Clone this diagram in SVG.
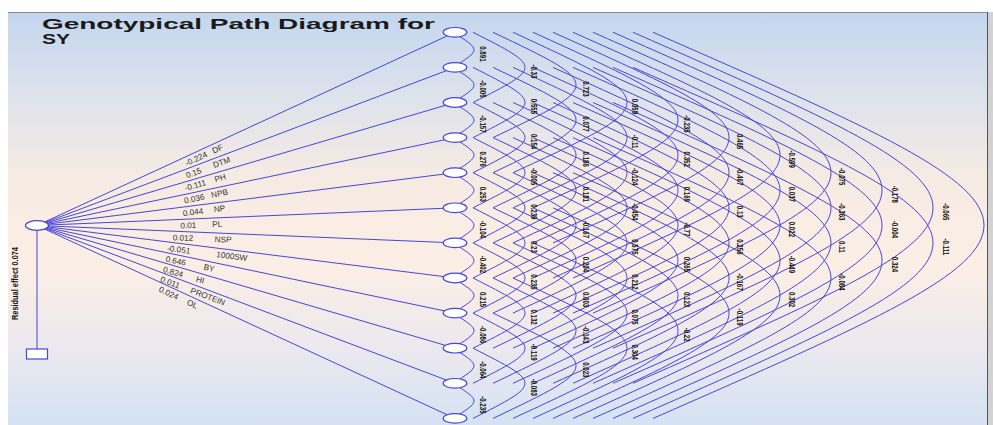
<svg xmlns="http://www.w3.org/2000/svg" width="993" height="425" viewBox="0 0 993 425">
<defs>
<linearGradient id="bg" x1="0" y1="12" x2="0" y2="425" gradientUnits="userSpaceOnUse">
<stop offset="0" stop-color="#c3d6ee"/>
<stop offset="0.2" stop-color="#dde2ec"/>
<stop offset="0.4" stop-color="#f6ebe3"/>
<stop offset="0.62" stop-color="#fbeee5"/>
<stop offset="0.82" stop-color="#ebe8ef"/>
<stop offset="1" stop-color="#d5e2f3"/>
</linearGradient>
<style>
.ln{fill:none;stroke:#4646d8;stroke-width:1}
.nd{fill:#fff;stroke:#4646d8;stroke-width:1.2}
.pl{font-family:"Liberation Sans",Arial,sans-serif;font-size:8.2px;fill:#333}
.al{font-family:"Liberation Sans",Arial,sans-serif;font-size:9px;font-weight:bold;fill:#111;text-anchor:middle;dominant-baseline:central}
.tt{font-family:"Liberation Sans",Arial,sans-serif;font-size:15px;font-weight:bold;fill:#1a1a1a}
</style>
</defs>
<rect x="0" y="0" width="993" height="425" fill="#fff"/>
<rect x="8" y="12" width="979" height="413" fill="url(#bg)"/>
<line x1="8" y1="12.5" x2="987" y2="12.5" stroke="#8a8a8a" stroke-width="1"/>
<rect x="987" y="12" width="6" height="413" fill="#d2d2d2"/>
<line x1="987.5" y1="12" x2="987.5" y2="425" stroke="#555" stroke-width="1"/>
<g id="title">
<text class="tt" x="42" y="29" textLength="393" lengthAdjust="spacingAndGlyphs">Genotypical Path Diagram for</text>
<text class="tt" x="42" y="44" textLength="28" lengthAdjust="spacingAndGlyphs">SY</text>
</g>
<g id="connectors">
<path class="ln" d="M37 225.5L455 32.3M37 225.5L455 67.4M37 225.5L455 102.5M37 225.5L455 137.6M37 225.5L455 172.7M37 225.5L455 207.8M37 225.5L455 242.9M37 225.5L455 278M37 225.5L455 313.1M37 225.5L455 348.2M37 225.5L455 383.3M37 225.5L455 418.4"/>
<path class="ln" d="M37 230V349"/>
<path class="ln" d="M453 32.3C481 49.85 481 49.85 453 67.4M453 67.4C481 84.95 481 84.95 453 102.5M453 102.5C481 120.05 481 120.05 453 137.6M453 137.6C481 155.15 481 155.15 453 172.7M453 172.7C481 190.25 481 190.25 453 207.8M453 207.8C481 225.35 481 225.35 453 242.9M453 242.9C481 260.45 481 260.45 453 278M453 278C481 295.55 481 295.55 453 313.1M453 313.1C481 330.65 481 330.65 453 348.2M453 348.2C481 365.75 481 365.75 453 383.3M453 383.3C481 400.85 481 400.85 453 418.4"/>
<path class="ln" d="M473 32.3C542.3 67.4 542.3 67.4 473 102.5M473 67.4C542.3 102.5 542.3 102.5 473 137.6M473 102.5C542.3 137.6 542.3 137.6 473 172.7M473 137.6C542.3 172.7 542.3 172.7 473 207.8M473 172.7C542.3 207.8 542.3 207.8 473 242.9M473 207.8C542.3 242.9 542.3 242.9 473 278M473 242.9C542.3 278 542.3 278 473 313.1M473 278C542.3 313.1 542.3 313.1 473 348.2M473 313.1C542.3 348.2 542.3 348.2 473 383.3M473 348.2C542.3 383.3 542.3 383.3 473 418.4"/>
<path class="ln" d="M493 32.3C603.7 84.95 603.7 84.95 493 137.6M493 67.4C603.7 120.05 603.7 120.05 493 172.7M493 102.5C603.7 155.15 603.7 155.15 493 207.8M493 137.6C603.7 190.25 603.7 190.25 493 242.9M493 172.7C603.7 225.35 603.7 225.35 493 278M493 207.8C603.7 260.45 603.7 260.45 493 313.1M493 242.9C603.7 295.55 603.7 295.55 493 348.2M493 278C603.7 330.65 603.7 330.65 493 383.3M493 313.1C603.7 365.75 603.7 365.75 493 418.4"/>
<path class="ln" d="M513 32.3C665 102.5 665 102.5 513 172.7M513 67.4C665 137.6 665 137.6 513 207.8M513 102.5C665 172.7 665 172.7 513 242.9M513 137.6C665 207.8 665 207.8 513 278M513 172.7C665 242.9 665 242.9 513 313.1M513 207.8C665 278 665 278 513 348.2M513 242.9C665 313.1 665 313.1 513 383.3M513 278C665 348.2 665 348.2 513 418.4"/>
<path class="ln" d="M533 32.3C726.3 120.05 726.3 120.05 533 207.8M533 67.4C726.3 155.15 726.3 155.15 533 242.9M533 102.5C726.3 190.25 726.3 190.25 533 278M533 137.6C726.3 225.35 726.3 225.35 533 313.1M533 172.7C726.3 260.45 726.3 260.45 533 348.2M533 207.8C726.3 295.55 726.3 295.55 533 383.3M533 242.9C726.3 330.65 726.3 330.65 533 418.4"/>
<path class="ln" d="M553 32.3C787.7 137.6 787.7 137.6 553 242.9M553 67.4C787.7 172.7 787.7 172.7 553 278M553 102.5C787.7 207.8 787.7 207.8 553 313.1M553 137.6C787.7 242.9 787.7 242.9 553 348.2M553 172.7C787.7 278 787.7 278 553 383.3M553 207.8C787.7 313.1 787.7 313.1 553 418.4"/>
<path class="ln" d="M573 32.3C849 155.15 849 155.15 573 278M573 67.4C849 190.25 849 190.25 573 313.1M573 102.5C849 225.35 849 225.35 573 348.2M573 137.6C849 260.45 849 260.45 573 383.3M573 172.7C849 295.55 849 295.55 573 418.4"/>
<path class="ln" d="M593 32.3C910.3 172.7 910.3 172.7 593 313.1M593 67.4C910.3 207.8 910.3 207.8 593 348.2M593 102.5C910.3 242.9 910.3 242.9 593 383.3M593 137.6C910.3 278 910.3 278 593 418.4"/>
<path class="ln" d="M613 32.3C971.7 190.25 971.7 190.25 613 348.2M613 67.4C971.7 225.35 971.7 225.35 613 383.3M613 102.5C971.7 260.45 971.7 260.45 613 418.4"/>
<path class="ln" d="M633 32.3C1033 207.8 1033 207.8 633 383.3M633 67.4C1033 242.9 1033 242.9 633 418.4"/>
<path class="ln" d="M653 32.3C1094.3 225.35 1094.3 225.35 653 418.4"/>
</g>
<g id="source"><ellipse class="nd" cx="37" cy="225.5" rx="11.5" ry="4.8"/></g>
<g id="residual"><rect class="nd" x="26.5" y="349" width="21" height="10"/>
<text class="al" transform="translate(15,283.5) rotate(-90) scale(0.82,1)" style="font-size:9px">Residual effect  0.074</text></g>
<g id="n0"><ellipse class="nd" cx="455" cy="32.3" rx="11.8" ry="4.8"/></g>
<g id="n1"><ellipse class="nd" cx="455" cy="67.4" rx="11.8" ry="4.8"/></g>
<g id="n2"><ellipse class="nd" cx="455" cy="102.5" rx="11.8" ry="4.8"/></g>
<g id="n3"><ellipse class="nd" cx="455" cy="137.6" rx="11.8" ry="4.8"/></g>
<g id="n4"><ellipse class="nd" cx="455" cy="172.7" rx="11.8" ry="4.8"/></g>
<g id="n5"><ellipse class="nd" cx="455" cy="207.8" rx="11.8" ry="4.8"/></g>
<g id="n6"><ellipse class="nd" cx="455" cy="242.9" rx="11.8" ry="4.8"/></g>
<g id="n7"><ellipse class="nd" cx="455" cy="278" rx="11.8" ry="4.8"/></g>
<g id="n8"><ellipse class="nd" cx="455" cy="313.1" rx="11.8" ry="4.8"/></g>
<g id="n9"><ellipse class="nd" cx="455" cy="348.2" rx="11.8" ry="4.8"/></g>
<g id="n10"><ellipse class="nd" cx="455" cy="383.3" rx="11.8" ry="4.8"/></g>
<g id="n11"><ellipse class="nd" cx="455" cy="418.4" rx="11.8" ry="4.8"/></g>
<g id="path-labels">
<g transform="translate(183,158) rotate(-24.8)"><text class="pl" y="9">-0.224</text><text class="pl" x="29.8" y="9">DF</text></g>
<g transform="translate(184,169.9) rotate(-20.72)"><text class="pl" y="9">0.15</text><text class="pl" x="28.9" y="9">DTM</text></g>
<g transform="translate(183,182.5) rotate(-16.4)"><text class="pl" y="9">-0.111</text><text class="pl" x="31.3" y="9">PH</text></g>
<g transform="translate(183,194.8) rotate(-11.87)"><text class="pl" y="9">0.036</text><text class="pl" x="27.6" y="9">NPB</text></g>
<g transform="translate(182,207.2) rotate(-7.2)"><text class="pl" y="9">0.044</text><text class="pl" x="31.3" y="9">NP</text></g>
<g transform="translate(180,219.45) rotate(-2.425)"><text class="pl" y="9">0.01</text><text class="pl" x="32" y="9">PL</text></g>
<g transform="translate(173,231.16) rotate(2.384)"><text class="pl" y="9">0.012</text><text class="pl" x="42" y="9">NSP</text></g>
<g transform="translate(168,241.95) rotate(7.159)"><text class="pl" y="9">-0.051</text><text class="pl" x="49.4" y="9">1000SW</text></g>
<g transform="translate(167,252.75) rotate(11.83)"><text class="pl" y="9">0.646</text><text class="pl" x="38.8" y="9">BY</text></g>
<g transform="translate(165,263.07) rotate(16.36)"><text class="pl" y="9">0.824</text><text class="pl" x="34.4" y="9">HI</text></g>
<g transform="translate(163,273.07) rotate(20.68)"><text class="pl" y="9">0.011</text><text class="pl" x="32.1" y="9">PROTEIN</text></g>
<g transform="translate(162,283.19) rotate(24.78)"><text class="pl" y="9">0.024</text><text class="pl" x="30.9" y="9">OL</text></g>
</g>
<g id="arc-labels">
<text class="al" transform="translate(482.5,53.9) rotate(90) scale(0.68,1)">0.891</text>
<text class="al" transform="translate(482.5,89) rotate(90) scale(0.68,1)">-0.005</text>
<text class="al" transform="translate(482.5,124) rotate(90) scale(0.68,1)">-0.157</text>
<text class="al" transform="translate(482.5,159.2) rotate(90) scale(0.68,1)">0.276</text>
<text class="al" transform="translate(482.5,194.3) rotate(90) scale(0.68,1)">0.253</text>
<text class="al" transform="translate(482.5,229.4) rotate(90) scale(0.68,1)">-0.104</text>
<text class="al" transform="translate(482.5,264.5) rotate(90) scale(0.68,1)">-0.402</text>
<text class="al" transform="translate(482.5,299.6) rotate(90) scale(0.68,1)">0.215</text>
<text class="al" transform="translate(482.5,334.7) rotate(90) scale(0.68,1)">-0.086</text>
<text class="al" transform="translate(482.5,369.8) rotate(90) scale(0.68,1)">-0.064</text>
<text class="al" transform="translate(482.5,404.9) rotate(90) scale(0.68,1)">-0.235</text>
<text class="al" transform="translate(534,71.4) rotate(90) scale(0.68,1)">-0.33</text>
<text class="al" transform="translate(534,106.5) rotate(90) scale(0.68,1)">0.555</text>
<text class="al" transform="translate(534,141.6) rotate(90) scale(0.68,1)">0.154</text>
<text class="al" transform="translate(534,176.7) rotate(90) scale(0.68,1)">-0.005</text>
<text class="al" transform="translate(534,211.8) rotate(90) scale(0.68,1)">0.239</text>
<text class="al" transform="translate(534,246.9) rotate(90) scale(0.68,1)">0.23</text>
<text class="al" transform="translate(534,282) rotate(90) scale(0.68,1)">0.235</text>
<text class="al" transform="translate(534,317.1) rotate(90) scale(0.68,1)">0.132</text>
<text class="al" transform="translate(534,352.2) rotate(90) scale(0.68,1)">-0.119</text>
<text class="al" transform="translate(534,387.3) rotate(90) scale(0.68,1)">-0.083</text>
<text class="al" transform="translate(585.5,89) rotate(90) scale(0.68,1)">0.723</text>
<text class="al" transform="translate(585.5,124) rotate(90) scale(0.68,1)">0.077</text>
<text class="al" transform="translate(585.5,159.2) rotate(90) scale(0.68,1)">0.186</text>
<text class="al" transform="translate(585.5,194.3) rotate(90) scale(0.68,1)">0.181</text>
<text class="al" transform="translate(585.5,229.4) rotate(90) scale(0.68,1)">-0.167</text>
<text class="al" transform="translate(585.5,264.5) rotate(90) scale(0.68,1)">0.204</text>
<text class="al" transform="translate(585.5,299.6) rotate(90) scale(0.68,1)">0.003</text>
<text class="al" transform="translate(585.5,334.7) rotate(90) scale(0.68,1)">-0.143</text>
<text class="al" transform="translate(585.5,369.8) rotate(90) scale(0.68,1)">0.023</text>
<text class="al" transform="translate(635,106.5) rotate(90) scale(0.68,1)">0.059</text>
<text class="al" transform="translate(635,141.6) rotate(90) scale(0.68,1)">-0.11</text>
<text class="al" transform="translate(635,176.7) rotate(90) scale(0.68,1)">-0.124</text>
<text class="al" transform="translate(635,211.8) rotate(90) scale(0.68,1)">-0.454</text>
<text class="al" transform="translate(635,246.9) rotate(90) scale(0.68,1)">0.575</text>
<text class="al" transform="translate(635,282) rotate(90) scale(0.68,1)">0.212</text>
<text class="al" transform="translate(635,317.1) rotate(90) scale(0.68,1)">0.075</text>
<text class="al" transform="translate(635,352.2) rotate(90) scale(0.68,1)">0.304</text>
<text class="al" transform="translate(687,124) rotate(90) scale(0.68,1)">-0.235</text>
<text class="al" transform="translate(687,159.2) rotate(90) scale(0.68,1)">0.352</text>
<text class="al" transform="translate(687,194.3) rotate(90) scale(0.68,1)">0.169</text>
<text class="al" transform="translate(687,229.4) rotate(90) scale(0.68,1)">-0.77</text>
<text class="al" transform="translate(687,264.5) rotate(90) scale(0.68,1)">0.265</text>
<text class="al" transform="translate(687,299.6) rotate(90) scale(0.68,1)">0.123</text>
<text class="al" transform="translate(687,334.7) rotate(90) scale(0.68,1)">-0.22</text>
<text class="al" transform="translate(740,141.6) rotate(90) scale(0.68,1)">0.465</text>
<text class="al" transform="translate(740,176.7) rotate(90) scale(0.68,1)">-0.467</text>
<text class="al" transform="translate(740,211.8) rotate(90) scale(0.68,1)">0.13</text>
<text class="al" transform="translate(740,246.9) rotate(90) scale(0.68,1)">0.256</text>
<text class="al" transform="translate(740,282) rotate(90) scale(0.68,1)">-0.167</text>
<text class="al" transform="translate(740,317.1) rotate(90) scale(0.68,1)">-0.119</text>
<text class="al" transform="translate(792,159.2) rotate(90) scale(0.68,1)">-0.599</text>
<text class="al" transform="translate(792,194.3) rotate(90) scale(0.68,1)">0.037</text>
<text class="al" transform="translate(792,229.4) rotate(90) scale(0.68,1)">0.022</text>
<text class="al" transform="translate(792,264.5) rotate(90) scale(0.68,1)">-0.449</text>
<text class="al" transform="translate(792,299.6) rotate(90) scale(0.68,1)">0.302</text>
<text class="al" transform="translate(842,176.7) rotate(90) scale(0.68,1)">-0.075</text>
<text class="al" transform="translate(842,211.8) rotate(90) scale(0.68,1)">-0.363</text>
<text class="al" transform="translate(842,246.9) rotate(90) scale(0.68,1)">0.11</text>
<text class="al" transform="translate(842,282) rotate(90) scale(0.68,1)">-0.084</text>
<text class="al" transform="translate(895,194.3) rotate(90) scale(0.68,1)">-0.178</text>
<text class="al" transform="translate(895,229.4) rotate(90) scale(0.68,1)">-0.004</text>
<text class="al" transform="translate(895,264.5) rotate(90) scale(0.68,1)">0.324</text>
<text class="al" transform="translate(946,211.8) rotate(90) scale(0.68,1)">-0.065</text>
<text class="al" transform="translate(946,246.9) rotate(90) scale(0.68,1)">-0.111</text>
</g>
</svg>
